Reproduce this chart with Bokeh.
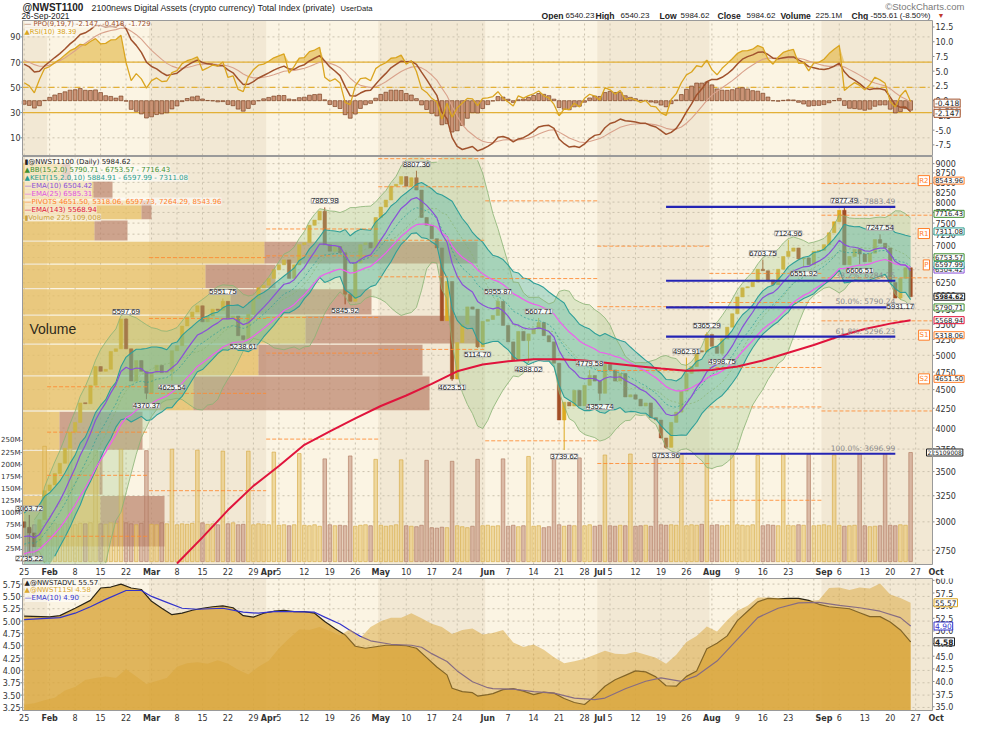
import numpy as np
from bokeh.plotting import figure
from bokeh.layouts import column
from bokeh.models import Range1d, LinearScale, Label, LabelSet, ColumnDataSource
from bokeh.embed import file_html
from bokeh.resources import INLINE
from bokeh.core.properties import value

# ---------------- data ----------------
# daily (weekday) closes of @NWST1100, bar 0 = 25-Jan-2021
closes = [
    2950, 2900, 2780, 3020, 3300, 3360, 3480, 3590, 3760, 3950,
    4070, 4320, 4310, 4560, 4830, 4760, 4790, 5060, 5100, 5590,
    5100, 4620, 4920, 4760, 4450, 4740, 4850, 4740, 4760, 5070,
    5150, 5470, 5620, 5710, 5820, 5540, 5640, 5760, 5740, 5900,
    5590, 5640, 5310, 5250, 5670, 5950, 6150, 6200, 6330, 6500,
    6600, 6700, 6330, 6600, 7020, 7060, 7450, 7570, 7780, 7020,
    6880, 6980, 6850, 6030, 5900, 6640, 7020, 7060, 6950, 7630,
    7880, 8050, 8400, 8450, 8650, 8400, 8620, 8300, 7630, 7450,
    7150, 6950, 5560, 6270, 4650, 5200, 5500, 5800, 5760, 5130,
    5550, 5580, 5650, 5900, 5480, 5210, 4920, 5380, 5230, 5340,
    5420, 5530, 5310, 5210, 4880, 4100, 4330, 4280, 4490, 4280,
    4560, 4700, 4620, 4450, 4860, 4780, 4620, 4730, 4400, 4430,
    4370, 4280, 4320, 4130, 4100, 3880, 3770, 4070, 4200, 4480,
    4730, 4830, 5070, 5050, 5330, 5140, 5030, 5260, 5450, 5680,
    5980, 6150, 6170, 6260, 6510, 6480, 6300, 6210, 6510, 6770,
    6880, 6950, 6720, 6740, 6600, 6880, 6900, 7020, 7280, 7530,
    7800, 6600, 6770, 6920, 6820, 6660, 6840, 7130, 7050, 6950,
    6250, 5960, 6330, 6540, 5984.62,
]
first_open = 3000.0

# volume in millions
volume_m = [
    70, 68, 76, 78, 238,   80, 79, 77, 78, 239,   76, 79, 78, 80, 230,
    78, 77, 80, 79, 232,   80, 78, 76, 79, 229,   77, 76, 80, 78, 232,
    76, 78, 77, 79, 230,   80, 77, 78, 76, 228,   78, 80, 76, 77, 228,
    76, 78, 77, 76, 226,   75, 76, 74, 76, 223,   75, 74, 76, 73, 212,
    76, 74, 75, 74, 218,   73, 75, 76, 74, 211,   75, 73, 74, 76, 210,
    74, 73, 72, 75, 209,   70, 69, 71, 70, 207,   74, 72, 70, 73, 211,
    74, 75, 73, 74, 212,   73, 75, 72, 74, 217,   73, 74, 70, 72, 217,
    76, 73, 75, 74, 214,   74, 76, 73, 75, 220,   74, 73, 75, 74, 222,
    73, 74, 75, 73, 219,   76, 75, 76, 75, 221,   74, 76, 75, 77, 221,
    75, 76, 74, 75, 219,   76, 75, 74, 76, 219,   74, 76, 75, 74, 221,
    75, 74, 76, 75, 221,   74, 75, 76, 74, 220,   75, 73, 74, 75, 222,
    74, 72, 73, 74, 222,   75, 74, 76, 75, 225.109008,
]

swing_high_idx = [1, 20, 39, 59, 77, 93, 101, 111, 130, 134, 145, 150, 161, 168]
swing_high_val = [3063.72, 5597.69, 5951.75, 7869.98, 8807.36, 5955.87, 5607.71,
                  4779.58, 4962.91, 5365.29, 6703.75, 7124.96, 7877.49, 7247.54]
swing_low_idx = [1, 24, 29, 43, 63, 84, 89, 99, 106, 113, 126, 137, 153, 164, 172]
swing_low_val = [2735.22, 4370.37, 4625.54, 5238.61, 5845.92, 4623.51, 5114.70,
                 4888.02, 3739.62, 4352.74, 3753.96, 4998.75, 6551.92, 6606.51, 5931.17]

ema143_idx = [30, 35, 40, 45, 50, 55, 60, 65, 70, 75, 80, 85, 90, 95, 100, 105, 110,
              115, 120, 125, 130, 135, 140, 145, 150, 155, 160, 165, 170, 174]
ema143_val = [2640, 2860, 3110, 3350, 3560, 3800, 3960, 4120, 4280, 4420, 4580, 4760,
              4860, 4910, 4940, 4940, 4920, 4880, 4840, 4800, 4770, 4780, 4830, 4920,
              5040, 5160, 5300, 5420, 5510, 5568.94]

# volume-by-price zones (price edges) and up / down volume (relative units)
vbp_edges = [2775, 3255, 3735, 4215, 4695, 5175, 5655, 6135, 6615, 7095, 7575, 8055, 8535, 9015]
vbp_up = [78, 77, 37, 171, 236, 283, 208, 183, 242, 72, 119, 71, 40]
vbp_down = [64, 3, 83, 236, 164, 172, 141, 70, 213, 33, 10, 19, 8]

feb_pivots = [2380, 2870, 3460, 3950, 4540]

fib_levels = [7883.49, 6284.25, 5790.24, 5296.23, 3696.99]
fib_names = ["0.0%", "38.2%", "50.0%", "61.8%", "100.0%"]
fib_from, fib_to = 126, 171

si_idx = [0, 5, 7, 10, 13, 15, 17, 19, 21, 23, 25, 27, 29, 31, 33, 35, 37, 39, 41, 43, 45,
          47, 49, 51, 53, 55, 57, 59, 61, 63, 65, 67, 69, 71, 73, 75, 77, 79, 81, 83, 84,
          86, 88, 89, 91, 92, 94, 96, 98, 100, 102, 104, 106, 108, 110, 112, 114, 116,
          118, 120, 122, 124, 126, 128, 130, 132, 134, 136, 138, 140, 142, 144, 146, 148,
          150, 152, 154, 156, 158, 160, 162, 164, 166, 168, 170, 172, 174]
si_val = [5.10, 5.085, 5.11, 5.26, 5.42, 5.67, 5.69, 5.75, 5.67, 5.64, 5.40, 5.26, 5.13,
          5.16, 5.22, 5.26, 5.29, 5.31, 5.27, 5.11, 5.08, 5.16, 5.20, 5.22, 5.19, 5.19,
          5.16, 4.99, 4.85, 4.72, 4.49, 4.45, 4.48, 4.51, 4.51, 4.50, 4.45, 4.26, 4.07,
          3.91, 3.64, 3.57, 3.55, 3.48, 3.51, 3.53, 3.61, 3.63, 3.58, 3.51, 3.56, 3.54,
          3.43, 3.35, 3.31, 3.48, 3.68, 3.81, 3.90, 3.99, 3.97, 3.87, 3.69, 3.68, 3.88,
          3.99, 4.44, 4.55, 4.70, 5.01, 5.20, 5.39, 5.46, 5.45, 5.46, 5.46, 5.42, 5.34,
          5.29, 5.27, 5.25, 5.17, 5.09, 5.09, 4.98, 4.82, 4.58]

advl_idx = list(range(0, 175, 2)) + [174]
advl_val = [35.4, 35.7, 36.3, 36.8, 38.2, 38.9, 40.3, 40.7, 41.0, 40.7, 42.4, 41.0, 39.5,
            40.1, 40.7, 42.9, 43.6, 43.8, 43.5, 44.2, 43.5, 42.3, 41.4, 42.9, 44.1, 46.5,
            48.5, 50.3, 50.2, 50.8, 50.0, 49.1, 50.4, 48.6, 50.8, 51.9, 52.6, 52.6, 53.5,
            52.5, 51.4, 50.8, 49.4, 50.2, 50.5, 49.3, 49.6, 50.2, 47.7, 46.8, 47.3, 46.3,
            44.8, 43.6, 44.0, 44.5, 45.3, 46.1, 45.5, 45.4, 45.9, 45.3, 44.7, 43.5, 45.3,
            47.8, 49.0, 50.9, 49.9, 52.1, 54.0, 55.0, 56.6, 56.6, 56.5, 56.2, 56.0, 55.9,
            56.1, 58.5, 58.6, 58.1, 58.6, 58.4, 59.4, 57.2, 56.5, 55.57]

siema_idx = [0, 7, 10, 13, 16, 20, 23, 25, 28, 31, 34, 39, 43, 46, 49, 53, 57, 59, 62, 64,
             66, 68, 72, 76, 78, 80, 83, 85, 88, 91, 92, 96, 100, 104, 108, 112, 114, 118,
             122, 125, 129, 132, 136, 140, 144, 148, 152, 156, 160, 164, 168, 172, 174]
siema_val = [5.03, 5.07, 5.16, 5.29, 5.44, 5.62, 5.62, 5.50, 5.38, 5.26, 5.24, 5.26, 5.18,
             5.16, 5.19, 5.19, 5.18, 5.08, 4.94, 4.81, 4.69, 4.60, 4.53, 4.51, 4.47, 4.34,
             4.18, 3.99, 3.77, 3.65, 3.63, 3.62, 3.57, 3.54, 3.44, 3.41, 3.44, 3.63, 3.78,
             3.85, 3.78, 3.89, 4.19, 4.63, 5.07, 5.26, 5.37, 5.38, 5.32, 5.27, 5.20, 5.07, 4.90]

day_tick_idx = [0, 10, 15, 20, 30, 35, 40, 45, 50, 55, 60, 65, 75, 80, 85, 95, 100, 105,
                110, 115, 120, 125, 130, 140, 145, 150, 160, 165, 170, 175]
day_tick_lbl = ["25", "8", "15", "22", "8", "15", "22", "29", "5", "12", "19", "26", "10",
                "17", "24", "7", "14", "21", "28", "5", "12", "19", "26", "9", "16", "23",
                "6", "13", "20", "27"]
month_tick_idx = [5, 25, 48, 70, 91, 113, 135, 157, 179]
month_tick_lbl = ["Feb", "Mar", "Apr", "May", "Jun", "Jul", "Aug", "Sep", "Oct"]

rsi_ticks = [10, 30, 50, 70, 90]
ppo_ticks = [-7.5, -5.0, -2.5, 0.0, 2.5, 5.0, 7.5, 10.0, 12.5]
price_ticks = list(range(2750, 9001, 250))
vol_ticks = [25, 50, 75, 100, 125, 150, 175, 200, 225, 250]
si_ticks = [3.25, 3.5, 3.75, 4.0, 4.25, 4.5, 4.75, 5.0, 5.25, 5.5, 5.75]
advl_ticks = [35.0, 37.5, 40.0, 42.5, 45.0, 47.5, 50.0, 52.5, 55.0, 57.5, 60.0]

# ---------------- derived series ----------------
c = np.array(closes, dtype=float)
n = len(c)
idx = np.arange(n, dtype=float)
o = np.concatenate([[first_open], c[:-1]])
h = np.maximum(o, c)
l = np.minimum(o, c)
for i, v in zip(swing_high_idx, swing_high_val):
    h[i] = max(h[i], v)
for i, v in zip(swing_low_idx, swing_low_val):
    l[i] = min(l[i], v)
up = c >= o


def ema(x, span, seed):
    a = 2.0 / (span + 1)
    out = np.empty(len(x))
    prev = seed
    for k, v in enumerate(x):
        prev = prev + a * (v - prev)
        out[k] = prev
    return out


ema10 = ema(c, 10, 2850)
ema25 = ema(c, 25, 2700)
kc_mid = ema(c, 15, 2780)
prevc = np.concatenate([[first_open], c[:-1]])
tr = np.maximum(h, prevc) - np.minimum(l, prevc)
atr = np.empty(n)
prev = 150.0
for k in range(n):
    prev = (prev * 9 + tr[k]) / 10
    atr[k] = prev
kc_hi = kc_mid + 2 * atr
kc_lo = kc_mid - 2 * atr

bb_x, bb_mid, bb_hi, bb_lo = [], [], [], []
for k in range(2, n):
    w = c[max(0, k - 14):k + 1]
    m, s = w.mean(), w.std()
    bb_x.append(k); bb_mid.append(m); bb_hi.append(m + 2 * s); bb_lo.append(m - 2 * s)
bb_x = np.array(bb_x, float); bb_mid = np.array(bb_mid); bb_hi = np.array(bb_hi); bb_lo = np.array(bb_lo)

g, lo_ = 70.0, 55.0
rsi = np.empty(n)
for k in range(n):
    ch = c[k] - (c[k - 1] if k > 0 else first_open)
    g = (g * 9 + max(ch, 0)) / 10
    lo_ = (lo_ * 9 + max(-ch, 0)) / 10
    rsi[k] = 100 - 100 / (1 + g / lo_)

e9 = ema(c, 9, 2820)
e19 = ema(c, 19, 2650)
ppo = (e9 - e19) / e19 * 100
sig = ema(ppo, 7, 7.0)
hist = ppo - sig

# ---------------- geometry ----------------
W = 967
IL, IR = 22, 932                      # inner frame, px from the canvas' left
XI0, XI1 = -0.33, 178.3
KX = (XI1 - XI0) / (IR - IL)
XF0, XF1 = XI0 - IL * KX, XI1 + (W - IR) * KX
LIGHT, DARK = "#fbf4e3", "#f2e8d4"
dark_l = [-0.33, 24.5, 69.5, 112.5, 156.5]
dark_r = [4.5, 47.5, 90.5, 134.5, 178.3]
GOLD, BROWN = "#dcaa22", "#a24e26"
AX_C = "#333333"


def xd(px):
    return XI0 + (px - IL) * KX


class Pan:
    def __init__(self, H, T, B, y0, y1, log=False):
        self.H, self.T, self.B, self.y0, self.y1, self.log = H, T, B, y0, y1, log
        a, b = (np.log10(y0), np.log10(y1)) if log else (y0, y1)
        self.a, self.b = a, b
        self.k = (b - a) / (B - T)

    def full(self):
        lo = self.a - (self.H - self.B) * self.k
        hi = self.b + self.T * self.k
        return (10 ** lo, 10 ** hi) if self.log else (lo, hi)

    def yd(self, px):
        v = self.b - (px - self.T) * self.k
        return 10 ** v if self.log else v


def make_fig(pan, log=False):
    lo, hi = pan.full()
    p = figure(width=W, height=pan.H, x_range=Range1d(XF0, XF1), y_range=Range1d(lo, hi),
               y_axis_type="log" if log else "linear", x_axis_location=None,
               y_axis_location=None, output_backend="svg", toolbar_location=None, min_border=0)
    p.grid.visible = False
    p.outline_line_color = None
    p.background_fill_color = "white"
    p.border_fill_color = "white"
    return p


def add_range(p, name, pan):
    lo, hi = pan.full()
    p.extra_y_ranges[name] = Range1d(lo, hi)
    p.extra_y_scales[name] = LinearScale()


def background(p, pan):
    p.quad(left=[XI0], right=[XI1], bottom=[pan.y0], top=[pan.y1], fill_color=LIGHT,
           line_color=None, level="image")
    p.quad(left=dark_l, right=dark_r, bottom=pan.y0, top=pan.y1, fill_color=DARK,
           line_color=None, level="image")
    vx = list(range(0, 180, 5))
    p.segment(x0=vx, y0=pan.y0, x1=vx, y1=pan.y1, line_color="#cbc2ae", line_dash="2 3",
              line_width=1, level="underlay")


def hgrid(p, pan, ticks, rng="default"):
    p.segment(x0=XI0, y0=ticks, x1=XI1, y1=ticks, line_color="#cbc2ae", line_dash="2 3",
              line_width=1, level="underlay", y_range_name=rng)


def outline(p, pan):
    p.quad(left=[XI0], right=[XI1], bottom=[pan.y0], top=[pan.y1], fill_alpha=0,
           line_color="#9a9a9a", line_width=1, level="overlay")


def ylabels(p, ticks, texts, side, rng="default", size="8px"):
    x = xd(IL - 2) if side == "left" else xd(IR + 3)
    xt0, xt1 = (xd(IL - 2), xd(IL)) if side == "left" else (xd(IR), xd(IR + 2))
    p.segment(x0=xt0, y0=ticks, x1=xt1, y1=ticks, line_color="#888888", y_range_name=rng)
    for t, s in zip(ticks, texts):
        p.add_layout(Label(x=x, y=t, y_range_name=rng, text=s, text_font="DejaVu Sans",
                           text_font_size=size, text_color=AX_C,
                           text_align="right" if side == "left" else "left",
                           text_baseline="middle"))


def xlabels(p, pan):
    y = pan.yd(pan.B + 3)
    for i, s in zip(day_tick_idx, day_tick_lbl):
        p.add_layout(Label(x=i, y=y, text=s, text_font="DejaVu Sans", text_font_size="8px",
                           text_color=AX_C, text_align="center", text_baseline="top"))
    for i, s in zip(month_tick_idx, month_tick_lbl):
        p.add_layout(Label(x=i, y=y, text=s, text_font="DejaVu Sans", text_font_size="8px",
                           text_font_style="bold", text_color=AX_C, text_align="center",
                           text_baseline="top"))


def tag(p, y, text, border, color="#222222", bold=False, rng="default", x=None,
        align="left", size="8px"):
    p.add_layout(Label(x=xd(IR + 1.5) if x is None else x, y=y, text=text, y_range_name=rng,
                       text_font="DejaVu Sans", text_font_size=size, text_color=color,
                       text_font_style="bold" if bold else "normal",
                       text_align=align, text_baseline="middle",
                       background_fill_color="white", background_fill_alpha=0.95,
                       border_line_color=border, border_line_width=1, padding=1))


def legend_line(p, px, y, text, color, size="7px"):
    p.add_layout(Label(x=xd(IL + px), y=y, text=text, text_font="DejaVu Sans",
                       text_font_size=size, text_color=color, text_baseline="middle",
                       background_fill_color="white", background_fill_alpha=0.55, padding=0))


def clip_line(arr, lo, hi):
    arr = np.asarray(arr, float)
    return np.where((arr < lo) | (arr > hi), np.nan, arr)


# ---------------- header ----------------
p0 = figure(width=W, height=20, x_range=Range1d(0, W), y_range=Range1d(0, 20),
            x_axis_location=None, y_axis_location=None, output_backend="svg",
            toolbar_location=None, min_border=0)
p0.outline_line_color = None
p0.background_fill_color = "white"
p0.border_fill_color = "white"
p0.grid.visible = False
LIB = value("Liberation Sans")


def htext(x, y, t, size, bold=False, color="#222222", align="left"):
    p0.text(x=[x], y=[y], text=[t], text_font=LIB, text_font_size=size,
            text_font_style="bold" if bold else "normal", text_color=color,
            text_align=align, text_baseline="middle")


htext(22, 13, "@NWST1100", "10px", bold=True)
htext(91, 12.5, "2100news Digital Assets (crypto currency) Total Index (private)", "8.8px")
htext(340, 12.5, "UserData", "7.6px")
htext(21, 4.5, "26-Sep-2021", "8.3px")
htext(964, 14.5, "\u00a9StockCharts.com", "9.5px", color="#7a7a7a", align="right")
for x, t, b in [(541, "Open", True), (565, "6540.23", False), (595, "High", True),
                (620, "6540.23", False), (659, "Low", True), (680, "5984.62", False),
                (717, "Close", True), (746, "5984.62", False), (780, "Volume", True),
                (815, "225.1M", False), (851, "Chg", True), (870, "-555.61 (-8.50%)", False)]:
    htext(x, 5, t, "8.6px" if b else "8px", bold=b)
htext(937, 5, "\u25bc", "7px", color="#c0392b")

# ---------------- top panel: RSI + PPO ----------------
P1 = Pan(136, 0, 135, -4, 103)
P1p = Pan(136, 0, 135, -9.3, 13.6)
p1 = make_fig(P1)
add_range(p1, "ppo", P1p)
background(p1, P1)
hgrid(p1, P1, rsi_ticks)
p1.varea(x=idx, y1=70, y2=np.maximum(rsi, 70), fill_color="#e2b43e", fill_alpha=0.6)
p1.varea(x=idx, y1=np.minimum(rsi, 30), y2=30, fill_color="#e2b43e", fill_alpha=0.6)
p1.segment(x0=XI0, y0=[70, 30], x1=XI1, y1=[70, 30], line_color="#e3b036", line_width=1.2)
p1.segment(x0=[XI0], y0=[50], x1=[XI1], y1=[50], line_color="#e3b036", line_width=1.2,
           line_dash="6 3 1 3")
p1.vbar(x=idx, top=hist, bottom=0, width=0.75, y_range_name="ppo", fill_color="#c58a6a",
        fill_alpha=0.9, line_color="#7d4424", line_width=0.7)
p1.line(idx, sig, y_range_name="ppo", line_color="#d9a28c", line_width=1.1)
p1.line(idx, clip_line(ppo, -9.3, 13.6), y_range_name="ppo", line_color="#a0522d", line_width=1.5)
p1.line(idx, rsi, line_color="#daa520", line_width=1.3)
outline(p1, P1)
ylabels(p1, rsi_ticks, [str(t) for t in rsi_ticks], "left")
ylabels(p1, ppo_ticks, ["%.1f" % t for t in ppo_ticks], "right", rng="ppo")
legend_line(p1, 2, P1.yd(3), "\u2014 PPO(9,19,7) -2.147, -0.418, -1.729", "#a0522d", "6.8px")
legend_line(p1, 2, P1.yd(11.5), "\u25b2RSI(10) 38.39", "#daa520", "6.8px")
tag(p1, -1.729, "-1.729", "#d9a28c", rng="ppo", size="7.5px")
tag(p1, -0.418, "-0.418", "#a0522d", rng="ppo", size="7.5px")
tag(p1, -2.147, "-2.147", "#a0522d", rng="ppo", size="7.5px")

# ---------------- main price panel ----------------
YMIN, YMAX = 2632.0, 9200.0
P2 = Pan(422, 0, 408, YMIN, YMAX, log=True)
P2v = Pan(422, 0, 408, -6, 836)
p2 = make_fig(P2, log=True)
add_range(p2, "vol", P2v)
p2.extra_x_ranges = {"vbp": Range1d(-IL, W - IL)}
background(p2, P2)
hgrid(p2, P2, price_ticks)

# volume by price
vb_lo = [e * 1.002 for e in vbp_edges[:-1]]
vb_hi = [e * 0.998 for e in vbp_edges[1:]]
p2.quad(left=0, right=vbp_up, bottom=vb_lo, top=vb_hi, x_range_name="vbp",
        fill_color="#e5bd62", fill_alpha=0.75, line_color=None)
p2.quad(left=vbp_up, right=[a + b for a, b in zip(vbp_up, vbp_down)], bottom=vb_lo, top=vb_hi,
        x_range_name="vbp", fill_color="#b98068", fill_alpha=0.7, line_color=None)

# volume bars
vcol = ["#e8c56f" if u else "#c7957e" for u in up]
vline = ["#d6aa45" if u else "#b07a62" for u in up]
p2.vbar(x=idx, top=volume_m, bottom=0, width=0.7, y_range_name="vol", fill_color=vcol,
        fill_alpha=0.6, line_color=vline, line_alpha=0.8, line_width=0.8)

# candles
ccol = [GOLD if u else BROWN for u in up]
p2.segment(x0=idx, y0=h, x1=idx, y1=l, line_color=ccol, line_width=1)
btop = np.maximum(o, c)
bbot = np.minimum(o, c)
btop = np.where(btop / bbot < 1.003, bbot * 1.003, btop)
p2.vbar(x=idx, top=btop, bottom=bbot, width=0.68, fill_color=ccol, line_color=ccol, line_width=0.5)

# bands
p2.varea(x=bb_x, y1=np.maximum(bb_lo, YMIN), y2=np.minimum(bb_hi, YMAX), fill_color="#a9cc8f", fill_alpha=0.35)
p2.varea(x=idx, y1=np.maximum(kc_lo, YMIN), y2=np.minimum(kc_hi, YMAX), fill_color="#4db5a5", fill_alpha=0.38)
p2.line(bb_x, clip_line(bb_hi, YMIN, YMAX), line_color="#8ab374", line_width=1, line_alpha=0.8)
p2.line(bb_x, clip_line(bb_lo, YMIN, YMAX), line_color="#8ab374", line_width=1, line_alpha=0.8)
p2.line(bb_x, clip_line(bb_mid, YMIN, YMAX), line_color="#8ab374", line_width=1, line_alpha=0.7, line_dash="2 2")
p2.line(idx, clip_line(kc_hi, YMIN, YMAX), line_color="#2f9f98", line_width=1.1)
p2.line(idx, clip_line(kc_lo, YMIN, YMAX), line_color="#2f9f98", line_width=1.1)
p2.line(idx, clip_line(kc_mid, YMIN, YMAX), line_color="#2f9f98", line_width=1, line_alpha=0.7, line_dash="2 2")

# pivots (monthly, from the previous month's H/L/C)
m_start = [0, 5, 25, 48, 70, 91, 113, 135, 157]
m_end = [4, 24, 47, 69, 90, 112, 134, 156, 174]
px0, px1, py = [], [], []
for m in range(1, 9):
    if m == 1:
        lv = feb_pivots
    else:
        s, e = m_start[m - 1], m_end[m - 1]
        H, L, C = h[s:e + 1].max(), l[s:e + 1].min(), c[e]
        P = (H + L + C) / 3
        lv = [P - (H - L), 2 * P - H, P, 2 * P - L, P + (H - L)]
    x0 = m_start[m] - 0.5
    x1 = m_end[m] + 0.5 if m < 8 else XI1
    for v in lv:
        if YMIN < v < YMAX:
            px0.append(x0); px1.append(x1); py.append(v)
p2.segment(x0=px0, y0=py, x1=px1, y1=py, line_color="#ff8a30", line_width=1, line_alpha=0.85,
           line_dash="4 2")

# moving averages
p2.line(idx, clip_line(ema25, YMIN, YMAX), line_color="#f05cf0", line_width=1.2)
p2.line(idx, clip_line(ema10, YMIN, YMAX), line_color="#8a4fd8", line_width=1.2)
p2.line(ema143_idx, ema143_val, line_color="#e0143c", line_width=2)

# fibonacci
p2.segment(x0=[fib_from] * 5, y0=fib_levels, x1=[fib_to] * 5, y1=fib_levels,
           line_color="#2424b4", line_width=2.2)
outline(p2, P2)
for lvl, nm in zip(fib_levels, fib_names):
    p2.add_layout(Label(x=fib_to, y=lvl, text="%s: %.2f" % (nm, lvl), text_font="DejaVu Sans",
                        text_font_size="7.5px", text_color="#8c8c8c", text_align="right",
                        text_baseline="bottom", y_offset=1))

# swing labels
LBL_FONT = value("Liberation Sans")
src_hi = ColumnDataSource(dict(x=swing_high_idx, y=[h[i] for i in swing_high_idx],
                               t=["%.2f" % v for v in swing_high_val]))
src_lo = ColumnDataSource(dict(x=swing_low_idx, y=[l[i] for i in swing_low_idx],
                               t=["%.2f" % v for v in swing_low_val]))
for src, base, off in [(src_hi, "bottom", 4), (src_lo, "top", -4)]:
    p2.add_layout(LabelSet(x="x", y="y", text="t", source=src, text_font=LBL_FONT,
                           text_font_size="7.5px", text_color="#222222", text_align="center",
                           text_baseline=base, y_offset=off, background_fill_color="white",
                           background_fill_alpha=0.9, border_line_color="#aaaaaa",
                           border_line_width=1))

# legend
leg = [("\u25ae@NWST1100 (Daily) 5984.62", "#222222"),
       ("\u25b2BB(15,2.0) 5790.71 - 6753.57 - 7716.43", "#3f8f2f"),
       ("\u25b2KELT(15,2.0,10) 5884.91 - 6597.99 - 7311.08", "#2a9d8f"),
       ("\u2014EMA(10) 6504.42", "#8a4fd8"),
       ("\u2014EMA(25) 6585.31", "#e052e0"),
       ("\u2014PIVOTS 4651.50, 5318.06, 6597.73, 7264.29, 8543.96", "#ff7f2a"),
       ("\u2014EMA(143) 5568.94", "#e0143c"),
       ("\u25aeVolume 225,109,008", "#c9a23e")]
for k, (t, col) in enumerate(leg):
    legend_line(p2, 2, P2.yd(5 + 8 * k), t, col, "7px")
p2.add_layout(Label(x=xd(IL + 7), y=P2.yd(172), text="Volume", text_font="Liberation Sans",
                    text_font_size="14px", text_color="#2d2a1a", text_baseline="middle"))

# axes
ylabels(p2, price_ticks, [str(t) for t in price_ticks], "right")
ylabels(p2, vol_ticks, ["%dM" % t for t in vol_ticks], "left", rng="vol", size="7px")
xlabels(p2, P2)

# right-side value tags
TS = "6.8px"
tag(p2, 8543.96, "8543.96", "#ff7f2a", size=TS)
tag(p2, 7716.43, "7716.43", "#3f8f2f", size=TS)
tag(p2, 7311.08, "7311.08", "#2a9d8f", size=TS)
tag(p2, 6504.42, "6504.42", "#8a4fd8", size=TS)
tag(p2, 6597.99, "6597.99", "#2a9d8f", size=TS)
tag(p2, 6753.57, "6753.57", "#3f8f2f", size=TS)
tag(p2, 5790.71, "5790.71", "#3f8f2f", size=TS)
tag(p2, 5984.62, "5984.62", "#111111", bold=True, size="6.3px")
tag(p2, 5568.94, "5568.94", "#e0143c", size=TS)
tag(p2, 5318.06, "5318.06", "#ff7f2a", size=TS)
tag(p2, 4651.50, "4651.50", "#ff7f2a", size=TS)
tag(p2, 225.109008, "225109008", "#222222", rng="vol", x=xd(IR - 6), size="6px")
for v, t in [(8543.96, "R2"), (7264.29, "R1"), (6597.73, "P"), (5318.06, "S1"), (4651.50, "S2")]:
    tag(p2, v, t, "#ff7f2a", color="#ff7f2a", x=xd(IR - 3), align="right", size="7px")

# ---------------- bottom panel ----------------
B0, B1 = 3.188, 5.863
P3 = Pan(146, 0, 132, B0, B1)
P3a = Pan(146, 0, 132, 34.26, 60.37)
p3 = make_fig(P3)
add_range(p3, "advl", P3a)
background(p3, P3)
hgrid(p3, P3, si_ticks)
p3.varea(x=si_idx, y1=B0, y2=si_val, fill_color="#daa53a", fill_alpha=0.8)
p3.line(si_idx, si_val, line_color="#2b2516", line_width=1.2)
p3.line(siema_idx, siema_val, line_color="#3333cc", line_width=1.2)
p3.varea(x=advl_idx, y1=34.26, y2=advl_val, y_range_name="advl", fill_color="#d9a53a", fill_alpha=0.5)
outline(p3, P3)
ylabels(p3, si_ticks, ["%.2f" % t for t in si_ticks], "left")
ylabels(p3, advl_ticks, ["%.1f" % t for t in advl_ticks], "right", rng="advl")
xlabels(p3, P3)
legend_line(p3, 2, P3.yd(4), "\u25b2@NWSTADVL 55.57", "#222222", "7px")
legend_line(p3, 2, P3.yd(11.5), "\u25b2@NWST11SI 4.58", "#d9a830", "7px")
legend_line(p3, 2, P3.yd(19.5), "\u2014EMA(10) 4.90", "#3333cc", "7px")
tag(p3, 55.57, "55.57", "#d9a520", rng="advl", size="7.5px")
tag(p3, 4.90, "4.90", "#3333cc", color="#3333cc", size="7.5px")
tag(p3, 4.58, "4.58", "#222222", bold=True, size="7.5px")

layout = column(p0, p1, p2, p3)
open("out.html", "w").write(file_html(layout, INLINE, title="NWST1100"))
